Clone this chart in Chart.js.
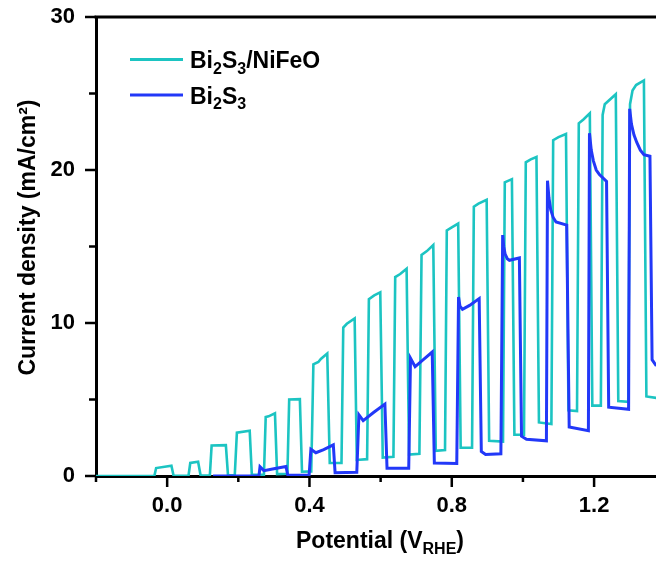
<!DOCTYPE html>
<html>
<head>
<meta charset="utf-8">
<script src="https://cdn.jsdelivr.net/npm/chart.js@4.4.0/dist/chart.umd.min.js"></script>
<style>
  html, body { margin: 0; padding: 0; background: #fff; }
  canvas { display: block; }
</style>
</head>
<body>
<canvas id="chart" width="656" height="561"></canvas>
<script>
const FONT = '"Liberation Sans", Arial, sans-serif';
const TEAL = '#1cc4c2';
const BLUE = '#2238f8';

// chopped-light LSV, Bi2S3/NiFeO
const nifeoV = [-0.200, -0.036, -0.031, 0.012, 0.018, 0.060, 0.065, 0.087, 0.094, 0.120,
  0.125, 0.165, 0.171, 0.190, 0.196, 0.232, 0.238, 0.272, 0.277, 0.285,
  0.303, 0.309, 0.338, 0.343, 0.373, 0.379, 0.405, 0.411, 0.425, 0.432,
  0.450, 0.457, 0.490, 0.495, 0.505, 0.527, 0.533, 0.562, 0.567, 0.582,
  0.599, 0.606, 0.636, 0.641, 0.655, 0.673, 0.680, 0.709, 0.715, 0.730,
  0.748, 0.755, 0.781, 0.786, 0.800, 0.818, 0.825, 0.857, 0.862, 0.875,
  0.898, 0.905, 0.944, 0.949, 0.969, 0.976, 1.003, 1.008, 1.022, 1.038,
  1.045, 1.080, 1.085, 1.100, 1.121, 1.128, 1.152, 1.157, 1.170, 1.188,
  1.195, 1.219, 1.224, 1.230, 1.261, 1.268, 1.296, 1.301, 1.308, 1.318,
  1.340, 1.347, 1.375];
const nifeoJ = [0.00, 0.00, 0.52, 0.67, 0.02, 0.02, 0.85, 0.93, 0.03, 0.03,
  2.00, 2.02, 0.05, 0.05, 2.83, 2.96, 0.08, 0.08, 3.85, 3.90,
  4.10, 0.12, 0.15, 5.00, 5.02, 0.28, 0.30, 7.30, 7.45, 7.65,
  8.00, 0.85, 0.85, 9.70, 9.95, 10.30, 1.05, 1.10, 11.55, 11.80,
  12.00, 1.20, 1.25, 13.00, 13.20, 13.55, 1.40, 1.45, 14.45, 14.70,
  15.10, 1.65, 1.70, 16.05, 16.25, 16.50, 1.85, 1.85, 17.60, 17.80,
  18.05, 2.30, 2.25, 19.20, 19.40, 2.70, 2.70, 20.50, 20.70, 20.85,
  3.50, 3.40, 21.95, 22.15, 22.35, 4.30, 4.25, 23.05, 23.30, 23.70,
  4.60, 4.60, 23.60, 24.30, 24.95, 4.90, 4.85, 24.30, 25.20, 25.55,
  25.85, 5.20, 5.10];

// chopped-light LSV, bare Bi2S3
const bareV = [0.129, 0.258, 0.261, 0.272, 0.300, 0.334, 0.339, 0.399, 0.404, 0.418,
  0.440, 0.467, 0.472, 0.533, 0.539, 0.551, 0.580, 0.612, 0.618, 0.679,
  0.684, 0.697, 0.720, 0.745, 0.751, 0.814, 0.819, 0.823, 0.830, 0.850,
  0.877, 0.883, 0.895, 0.938, 0.943, 0.946, 0.950, 0.956, 0.962, 0.990,
  0.996, 1.010, 1.066, 1.069, 1.073, 1.078, 1.085, 1.093, 1.123, 1.130,
  1.184, 1.187, 1.192, 1.198, 1.206, 1.215, 1.235, 1.241, 1.297, 1.300,
  1.305, 1.312, 1.320, 1.330, 1.340, 1.357, 1.363, 1.375];
const bareJ = [0.00, 0.00, 0.60, 0.35, 0.48, 0.62, 0.05, 0.05, 1.75, 1.52,
  1.72, 2.03, 0.22, 0.25, 4.00, 3.62, 4.15, 4.70, 0.50, 0.50,
  7.70, 7.15, 7.60, 8.10, 0.85, 0.82, 11.70, 11.10, 10.90, 11.15,
  11.60, 1.60, 1.40, 1.45, 15.75, 15.00, 14.50, 14.20, 14.10, 14.25,
  2.60, 2.40, 2.30, 19.30, 18.20, 17.40, 16.90, 16.60, 16.40, 3.20,
  2.96, 22.40, 21.30, 20.60, 20.00, 19.70, 19.25, 4.50, 4.36, 24.00,
  23.00, 22.30, 21.80, 21.30, 21.00, 20.90, 7.60, 7.20];

const xLabelled = [0, 0.4, 0.8, 1.2];
const yLabelled = [0, 10, 20, 30];

// rich-text pieces: [text, isSubscript]
const legendNames = [
  [['Bi', 0], ['2', 1], ['S', 0], ['3', 1], ['/NiFeO', 0]],
  [['Bi', 0], ['2', 1], ['S', 0], ['3', 1]],
];
const xTitle = [['Potential (V', 0], ['RHE', 1], [')', 0]];
const yTitle = 'Current density (mA/cm\u00b2)';

const near = (list, v) => list.some(t => Math.abs(t - v) < 1e-6);

function richWidth(ctx, segs, size, subSize) {
  let w = 0;
  segs.forEach(([t, sub]) => {
    ctx.font = `bold ${sub ? subSize : size}px ${FONT}`;
    w += ctx.measureText(t).width;
  });
  return w;
}

function drawRich(ctx, segs, x, y, size, subSize, shift) {
  ctx.textAlign = 'left';
  ctx.textBaseline = 'alphabetic';
  segs.forEach(([t, sub]) => {
    ctx.font = `bold ${sub ? subSize : size}px ${FONT}`;
    ctx.fillText(t, x, sub ? y + shift : y);
    x += ctx.measureText(t).width;
  });
}

const decor = {
  id: 'decor',
  afterDraw(chart) {
    const { ctx, chartArea: a, scales } = chart;
    ctx.save();
    ctx.strokeStyle = '#000';
    ctx.fillStyle = '#000';

    // top frame line
    ctx.lineWidth = 3;
    ctx.beginPath();
    ctx.moveTo(a.left - 1.5, a.top);
    ctx.lineTo(a.right, a.top);
    ctx.stroke();

    // tick marks, long on labelled values
    ctx.lineWidth = 2.5;
    scales.x.ticks.forEach(t => {
      const px = scales.x.getPixelForValue(t.value);
      const len = near(xLabelled, t.value) ? 11 : 6;
      ctx.beginPath();
      ctx.moveTo(px, a.bottom);
      ctx.lineTo(px, a.bottom + len);
      ctx.stroke();
    });
    scales.y.ticks.forEach(t => {
      const py = scales.y.getPixelForValue(t.value);
      const len = near(yLabelled, t.value) ? 11 : 7;
      ctx.beginPath();
      ctx.moveTo(a.left, py);
      ctx.lineTo(a.left - len, py);
      ctx.stroke();
    });

    // axis titles
    const xw = richWidth(ctx, xTitle, 23, 16);
    drawRich(ctx, xTitle, 380 - xw / 2, 548, 23, 16, 6);

    ctx.save();
    ctx.translate(35, (a.top + a.bottom) / 2 - 9);
    ctx.rotate(-Math.PI / 2);
    ctx.font = `bold 23px ${FONT}`;
    ctx.textAlign = 'center';
    ctx.textBaseline = 'alphabetic';
    ctx.fillText(yTitle, 0, 0);
    ctx.restore();

    // legend
    const colors = [TEAL, BLUE];
    const rows = [59.5, 95];
    legendNames.forEach((segs, i) => {
      ctx.strokeStyle = colors[i];
      ctx.lineWidth = 3;
      ctx.beginPath();
      ctx.moveTo(130, rows[i]);
      ctx.lineTo(183, rows[i]);
      ctx.stroke();
      ctx.fillStyle = '#000';
      drawRich(ctx, segs, 190, rows[i] + 8.8, 23, 16, 5.5);
    });
    ctx.restore();
  },
};

new Chart(document.getElementById('chart'), {
  type: 'line',
  data: {
    datasets: [
      {
        label: 'Bi2S3/NiFeO',
        data: nifeoV.map((v, i) => ({ x: v, y: nifeoJ[i] })),
        borderColor: TEAL,
        borderWidth: 2.6,
        pointRadius: 0,
        tension: 0,
        fill: false,
        order: 2,
      },
      {
        label: 'Bi2S3',
        data: bareV.map((v, i) => ({ x: v, y: bareJ[i] })),
        borderColor: BLUE,
        borderWidth: 3,
        pointRadius: 0,
        tension: 0,
        fill: false,
        order: 1,
      },
    ],
  },
  options: {
    responsive: false,
    animation: false,
    devicePixelRatio: 1,
    layout: { padding: { left: 0, right: 0, top: 17, bottom: 0 } },
    plugins: { legend: { display: false }, tooltip: { enabled: false } },
    scales: {
      x: {
        type: 'linear',
        min: -0.2,
        max: 1.374,
        grid: { display: false, drawTicks: false },
        border: { display: true, width: 3, color: '#000' },
        ticks: {
          stepSize: 0.2,
          includeBounds: false,
          autoSkip: false,
          maxRotation: 0,
          padding: 17,
          color: '#000',
          font: { family: FONT, size: 22, weight: 'bold' },
          callback: v => (near(xLabelled, v) ? v.toFixed(1) : ''),
        },
        afterFit: s => { s.height = 85; s.paddingLeft = 0; s.paddingRight = 0; },
      },
      y: {
        min: 0,
        max: 30,
        grid: { display: false, drawTicks: false },
        border: { display: true, width: 3, color: '#000' },
        ticks: {
          stepSize: 5,
          autoSkip: false,
          padding: 21,
          color: '#000',
          font: { family: FONT, size: 22, weight: 'bold' },
          callback: v => (near(yLabelled, v) ? String(v) : ''),
        },
        afterFit: s => { s.width = 96; s.paddingTop = 0; s.paddingBottom = 0; },
      },
    },
  },
  plugins: [decor],
});
</script>
</body>
</html>
